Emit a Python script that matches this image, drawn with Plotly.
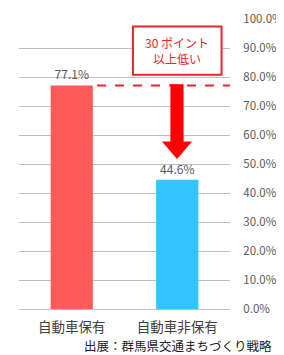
import plotly.graph_objects as go

categories = ["自動車保有", "自動車非保有"]
values = [77.1, 44.6]
bar_colors = ["#FF5A5A", "#33C3FF"]
tick_vals = [0, 10, 20, 30, 40, 50, 60, 70, 80, 90, 100]
callout_lines = ["30 ポイント", "以上低い"]
source_text = "出展：群馬県交通まちづくり戦略"

FONT = "Noto Sans CJK JP, Noto Sans, sans-serif"

fig = go.Figure()
fig.add_trace(go.Bar(
    x=[0, 1], y=values,
    marker=dict(color=bar_colors, line=dict(width=0)),
    width=0.4,
    text=[f"{v:.1f}%" for v in values],
    textposition="outside",
    textfont=dict(size=12, color="#595959", family=FONT),
    cliponaxis=False,
    hoverinfo="skip",
))

top = values[0]
# dashed reference line at the first bar's level
fig.add_shape(type="line", xref="x", yref="y", x0=0.24, x1=1.5, y0=top, y1=top,
              line=dict(color="#E8262B", width=2, dash="dash"), layer="above")
# arrow shaft
fig.add_shape(type="rect", xref="x", yref="y", x0=0.935, x1=1.06, y0=57.6, y1=top + 0.4,
              fillcolor="#FF0000", line=dict(width=0), layer="above")
# arrow head
fig.add_shape(type="path", xref="x", yref="y",
              path="M 0.855 57.8 L 1.14 57.8 L 0.9975 51.7 Z",
              fillcolor="#FF0000", line=dict(width=0), layer="above")
# callout box
fig.add_shape(type="rect", xref="x", yref="y", x0=0.58, x1=1.42, y0=80.8, y1=97.4,
              fillcolor="white", line=dict(color="#E8262B", width=2), layer="above")
fig.add_annotation(x=1.0, y=89.1, xref="x", yref="y", text="<br>".join(callout_lines),
                   showarrow=False, font=dict(size=12, color="#E8262B", family=FONT),
                   align="center")
fig.add_annotation(x=(266 - 11) / 211, y=(301 - 337) / 290, xref="paper", yref="paper",
                   xanchor="right", yanchor="middle", text=source_text, showarrow=False,
                   font=dict(size=12.5, color="#222222", family=FONT))

fig.update_layout(
    width=276, height=347,
    margin=dict(l=11, r=54, t=11, b=46),
    paper_bgcolor="white", plot_bgcolor="white",
    showlegend=False,
    font=dict(family=FONT),
    xaxis=dict(
        tickmode="array", tickvals=[0, 1], ticktext=categories,
        range=[-0.5, 1.5], automargin=False,
        tickfont=dict(size=13.5, color="#404040", family=FONT),
        showgrid=False, zeroline=False, showline=False,
        ticks="outside", ticklen=6, tickcolor="rgba(0,0,0,0)",
    ),
    yaxis=dict(
        side="right", range=[0, 100], automargin=False,
        tickvals=tick_vals, ticktext=[f"{v:.1f}%" for v in tick_vals],
        tickfont=dict(size=11.5, color="#595959", family=FONT),
        showgrid=True, gridcolor="#BFBFBF", gridwidth=1,
        zeroline=True, zerolinecolor="#BFBFBF", zerolinewidth=1,
        showline=False,
        ticks="outside", ticklen=10, tickcolor="rgba(0,0,0,0)",
    ),
)

fig.write_html("out.html")
